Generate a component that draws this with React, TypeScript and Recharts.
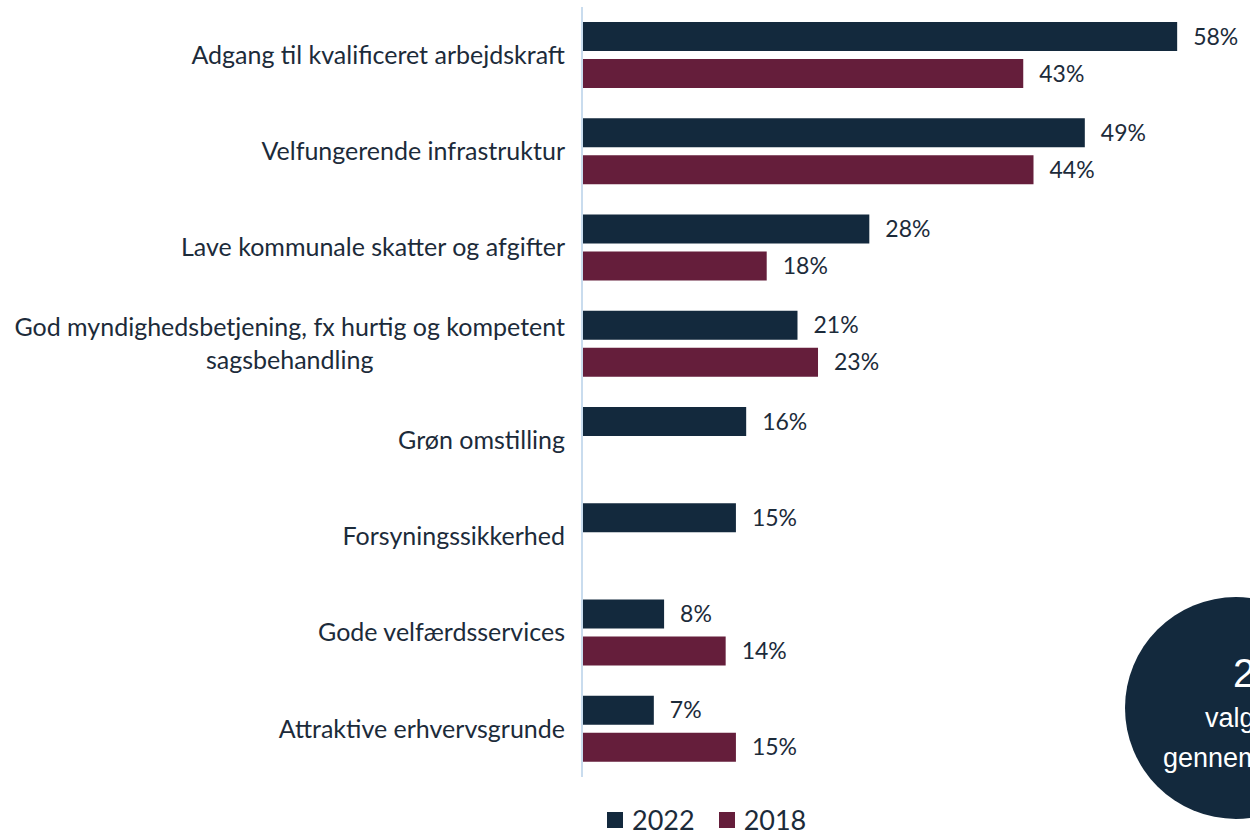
import React, { useLayoutEffect, useRef, useState } from "react";
import { BarChart, Bar, XAxis, YAxis, LabelList } from "recharts";

const categories = [
  "Adgang til kvalificeret arbejdskraft",
  "Velfungerende infrastruktur",
  "Lave kommunale skatter og afgifter",
  "God myndighedsbetjening, fx hurtig og kompetent sagsbehandling",
  "Grøn omstilling",
  "Forsyningssikkerhed",
  "Gode velfærdsservices",
  "Attraktive erhvervsgrunde",
];
const values2022 = [58, 49, 28, 21, 16, 15, 8, 7];
const values2018 = [43, 44, 18, 23, null, null, 14, 15];
const seriesNames = ["2022", "2018"];
const bubbleLines = ["2,4", "valgte i", "gennemsnit"];

const NAVY = "#13293d";
const MAROON = "#651e3b";
const TEXT = "#1c2b3a";
const FONT = "Lato, 'Noto Sans', sans-serif";

const data = categories.map((name, i) => ({
  name,
  v2022: values2022[i],
  v2018: values2018[i],
}));

function wrap(label: string, max = 48) {
  const words = label.split(" ");
  const lines: string[] = [];
  let cur = "";
  for (const w of words) {
    if (cur && (cur + " " + w).length > max) {
      lines.push(cur);
      cur = w;
    } else {
      cur = cur ? cur + " " + w : w;
    }
  }
  if (cur) lines.push(cur);
  return lines;
}

function CategoryTick(props: any) {
  const { x, y, payload } = props;
  const lines = wrap(payload.value);
  const firstRef = useRef<SVGTextElement>(null);
  const [w, setW] = useState(0);
  useLayoutEffect(() => {
    if (firstRef.current) setW(firstRef.current.getComputedTextLength());
  }, [payload.value]);
  const lh = 33;
  const top = y - ((lines.length - 1) * lh) / 2;
  return (
    <g>
      {lines.map((line, i) => (
        <text
          key={i}
          ref={i === 0 ? firstRef : undefined}
          x={i === 0 ? x : x - w / 2}
          y={top + i * lh}
          dy="0.35em"
          textAnchor={i === 0 ? "end" : "middle"}
          fill={TEXT}
          fontSize={25}
          fontFamily={FONT}
        >
          {line}
        </text>
      ))}
    </g>
  );
}

const pct = (v: any) => (v == null ? "" : `${v}%`);

function LegendBox() {
  const colors = [NAVY, MAROON];
  return (
    <div style={{ position: "absolute", left: 607, top: 805, display: "flex", alignItems: "center", fontFamily: FONT }}>
      {seriesNames.map((s, i) => (
        <div key={s} style={{ display: "flex", alignItems: "center", marginRight: 24 }}>
          <span style={{ width: 16, height: 16, background: colors[i], display: "inline-block", marginRight: 9 }} />
          <span style={{ fontSize: 27, color: TEXT, lineHeight: "30px" }}>{s}</span>
        </div>
      ))}
    </div>
  );
}

export default function App() {
  return (
    <div style={{ position: "absolute", left: 0, top: 0, width: 1250, height: 835, overflow: "hidden", background: "#fff" }}>
      <BarChart
        width={1250}
        height={835}
        data={data}
        layout="vertical"
        margin={{ top: 7, right: 1, bottom: 58, left: 0 }}
        barGap={8}
        barSize={29}
      >
        <XAxis type="number" domain={[0, 65]} hide />
        <YAxis
          type="category"
          dataKey="name"
          width={582}
          tickLine={false}
          tickSize={0}
          tickMargin={17}
          axisLine={{ stroke: "#c9dcee", strokeWidth: 2 }}
          tick={<CategoryTick />}
          interval={0}
        />
        <Bar dataKey="v2022" name="2022" fill={NAVY} isAnimationActive={false}>
          <LabelList dataKey="v2022" position="right" offset={16} formatter={pct} fill={TEXT} fontSize={23} fontFamily={FONT} />
        </Bar>
        <Bar dataKey="v2018" name="2018" fill={MAROON} isAnimationActive={false}>
          <LabelList dataKey="v2018" position="right" offset={16} formatter={pct} fill={TEXT} fontSize={23} fontFamily={FONT} />
        </Bar>
      </BarChart>
      <LegendBox />
      <svg width={1250} height={835} style={{ position: "absolute", left: 0, top: 0, pointerEvents: "none" }}>
        <circle cx={1236} cy={708} r={111} fill={NAVY} />
        <text x={1233} y={687} fill="#fff" fontSize={40} fontFamily="'Liberation Sans', Arial, sans-serif">{bubbleLines[0]}</text>
        <text x={1205} y={727} fill="#fff" fontSize={27} fontFamily="'Liberation Sans', Arial, sans-serif">{bubbleLines[1]}</text>
        <text x={1163} y={767} fill="#fff" fontSize={27} fontFamily="'Liberation Sans', Arial, sans-serif">{bubbleLines[2]}</text>
      </svg>
    </div>
  );
}
